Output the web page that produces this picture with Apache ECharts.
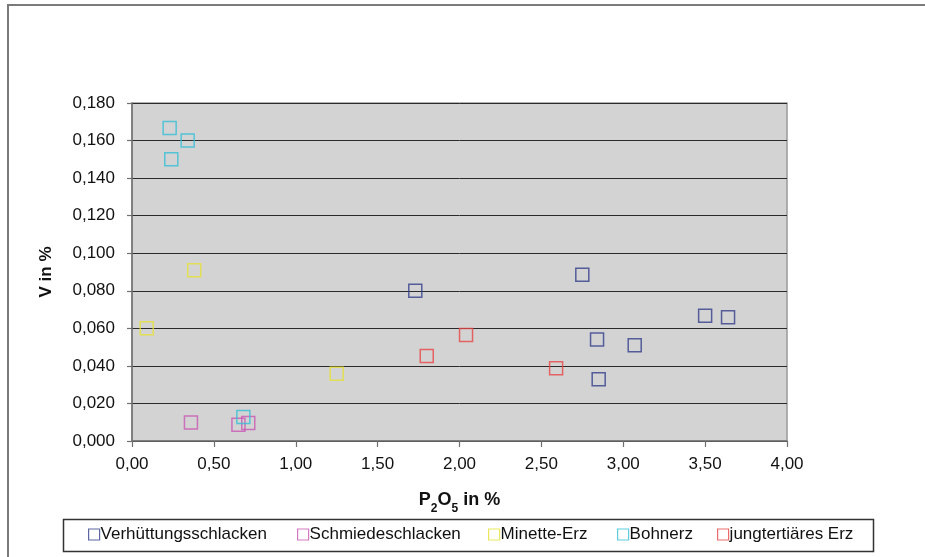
<!DOCTYPE html>
<html>
<head>
<meta charset="utf-8">
<script src="https://cdn.jsdelivr.net/npm/echarts@6/dist/echarts.min.js"></script>
<style>html,body{margin:0;padding:0;background:#fff}#c{width:925px;height:557px}</style>
</head>
<body>
<div id="c"></div>
<script>
var seriesNames = ['Verhüttungsschlacken', 'Schmiedeschlacken', 'Minette-Erz', 'Bohnerz', 'jungtertiäres Erz'];
var seriesColors = ['#353f8c', '#c957b4', '#e6e236', '#35bfd6', '#e84646'];

var verhX = [1.73, 2.75, 3.50, 3.64, 2.84, 3.07, 2.85];
var verhY = [0.080, 0.0886, 0.0667, 0.0659, 0.0541, 0.0510, 0.0329];
var schmX = [0.36, 0.65, 0.71];
var schmY = [0.0098, 0.0087, 0.0096];
var minX = [0.38, 0.09, 1.25];
var minY = [0.0909, 0.060, 0.0358];
var bohnX = [0.23, 0.34, 0.24, 0.68];
var bohnY = [0.1667, 0.160, 0.150, 0.0128];
var jungX = [2.04, 1.80, 2.59];
var jungY = [0.0565, 0.0453, 0.0387];

var xTicks = {min: 0, max: 4, interval: 0.5};
var yTicks = {min: 0, max: 0.18, interval: 0.02};

var allX = [verhX, schmX, minX, bohnX, jungX];
var allY = [verhY, schmY, minY, bohnY, jungY];
var legendLeft = [88, 297, 488, 617, 717];

function pairs(xs, ys) { return xs.map(function (x, i) { return [x, ys[i]]; }); }

var font = 'Liberation Sans, Arial, sans-serif';
var series = seriesNames.map(function (n, i) {
  return {
    name: n, type: 'scatter', symbol: 'rect', symbolSize: 13,
    data: pairs(allX[i], allY[i]),
    itemStyle: {color: 'rgba(0,0,0,0)', borderColor: seriesColors[i], borderWidth: 1.5},
    emphasis: {disabled: true}
  };
});
var legends = seriesNames.map(function (n, i) {
  return {
    data: [n], left: legendLeft[i], top: 526, padding: 0, icon: 'rect',
    itemWidth: 11, itemHeight: 11, itemGap: 0,
    itemStyle: {color: 'rgba(0,0,0,0)', borderColor: seriesColors[i], borderWidth: 1.2},
    textStyle: {fontFamily: font, fontSize: 17, color: '#111', padding: [0, 0, 0, -4]},
    selectedMode: false
  };
});

var chart = echarts.init(document.getElementById('c'), null, {renderer: 'canvas'});
chart.setOption({
  animation: false,
  backgroundColor: '#fff',
  grid: {left: 132, right: 138, top: 103, bottom: 116, show: true, backgroundColor: '#d3d3d3', borderColor: '#9a9a9a', borderWidth: 1.5},
  xAxis: {
    type: 'value', min: xTicks.min, max: xTicks.max, interval: xTicks.interval,
    name: '{m|P}{s|2}{m|O}{s|5}{m| in %}', nameLocation: 'middle', nameGap: 50,
    nameTextStyle: {rich: {
      m: {fontFamily: font, fontSize: 18, fontWeight: 'bold', color: '#111', lineHeight: 24, verticalAlign: 'top'},
      s: {fontFamily: font, fontSize: 12, fontWeight: 'bold', color: '#111', lineHeight: 12, verticalAlign: 'bottom'}
    }},
    axisLine: {show: true, onZero: false, lineStyle: {color: '#707070', width: 1.5}},
    axisTick: {show: true, inside: false, length: 6, lineStyle: {color: '#707070', width: 1.2}},
    axisLabel: {fontFamily: font, fontSize: 17, color: '#111', margin: 15,
      formatter: function (v) { return v.toFixed(2).replace('.', ','); }},
    splitLine: {show: false}
  },
  yAxis: {
    type: 'value', min: yTicks.min, max: yTicks.max, interval: yTicks.interval,
    name: 'V in %', nameLocation: 'middle', nameGap: 77, nameRotate: 90,
    nameTextStyle: {fontFamily: font, fontSize: 17, fontWeight: 'bold', color: '#111'},
    axisLine: {show: true, onZero: false, lineStyle: {color: '#707070', width: 1.5}},
    axisTick: {show: true, inside: false, length: 5, lineStyle: {color: '#707070', width: 1.2}},
    axisLabel: {fontFamily: font, fontSize: 17, color: '#111', margin: 17,
      formatter: function (v) { return v.toFixed(3).replace('.', ','); }},
    splitLine: {show: true, lineStyle: {color: '#2a2a2a', width: 1}}
  },
  legend: legends,
  graphic: [
    {type: 'rect', shape: {x: 8, y: 5, width: 1000, height: 1000}, style: {fill: 'none', stroke: '#7a7a7a', lineWidth: 2}, silent: true, z: -1},
    {type: 'rect', shape: {x: 63.5, y: 519.5, width: 810, height: 32}, style: {fill: 'none', stroke: '#333', lineWidth: 1.5}, silent: true, z: -1}
  ],
  series: series
});
</script>
</body>
</html>
